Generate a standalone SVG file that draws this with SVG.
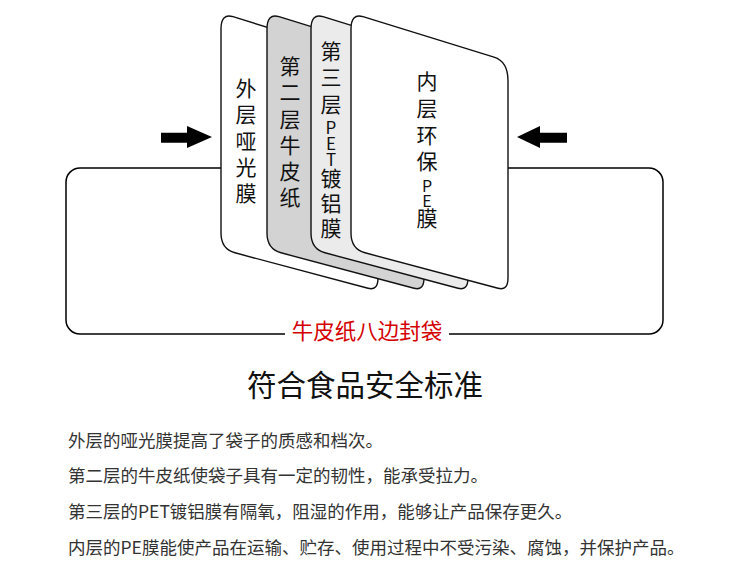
<svg xmlns="http://www.w3.org/2000/svg" xmlns:xlink="http://www.w3.org/1999/xlink" width="750" height="571" viewBox="0 0 750 571">
<style>
.frame{fill:none;stroke:#000;stroke-width:1.5}
.sheet{stroke:#111;stroke-width:1.4}
.arrow{fill:#000}
.st{font-family:"Noto Sans CJK SC","Noto Sans",sans-serif;font-size:21px;fill:#111;writing-mode:vertical-rl;text-orientation:upright;letter-spacing:5.3px}
.lt{font-size:17px;letter-spacing:-1px}
.label{font-family:"Noto Sans CJK SC",sans-serif;font-size:21.5px;fill:#d40000;text-anchor:middle}
.title{font-family:"Noto Sans CJK SC",sans-serif;font-size:29.5px;fill:#111;text-anchor:middle}
.body{font-family:"Noto Sans CJK SC",sans-serif;font-size:17.5px;fill:#333}
</style>
<defs>
<path id="sheetShape" d="M0,29 Q0,13 12,16.7 L143,57.2 Q157,61.5 157,81 L157,278 Q157,291 147,288.3 L14,252.8 Q0,249 0,233 Z"/>
</defs>
<g id="connectors">
<path class="frame" d="M285,334 L80,334 A14,14 0 0 1 66,320 L66,182 A14,14 0 0 1 80,168 L649,168 A14,14 0 0 1 663,182 L663,320 A14,14 0 0 1 649,334 L449,334"/>
<path class="arrow" d="M161,132.7 L187,132.7 L187,126 L212,137 L187,148 L187,142.7 L161,142.7 Z"/>
<path class="arrow" d="M567,132.7 L540,132.7 L540,126 L517,137 L540,148 L540,142.7 L567,142.7 Z"/>
</g>
<g id="label-bag">
<text class="label" x="367" y="339">牛皮纸八边封袋</text>
</g>
<g id="sheet-outer">
<use xlink:href="#sheetShape" x="221" class="sheet" fill="#ffffff"/>
<text class="st" x="246" y="77.5">外层哑光膜</text>
</g>
<g id="sheet-kraft">
<use xlink:href="#sheetShape" x="267" class="sheet" fill="#d3d3d3"/>
<text class="st" x="290" y="55.5">第二层牛皮纸</text>
</g>
<g id="sheet-pet">
<use xlink:href="#sheetShape" x="311" class="sheet" fill="#ebebeb"/>
<text class="st" x="331" y="40.5">第三层<tspan class="lt">PET</tspan><tspan style="letter-spacing:4px">镀铝膜</tspan></text>
</g>
<g id="sheet-inner">
<use xlink:href="#sheetShape" x="351" class="sheet" fill="#ffffff"/>
<text class="st" x="427" y="70.5" style="letter-spacing:5.8px">内层环保<tspan class="lt" style="font-size:16px">PE</tspan>膜</text>
</g>
<g id="title">
<text class="title" x="365" y="396">符合食品安全标准</text>
</g>
<g id="description">
<text class="body" x="68" y="446.5">外层的哑光膜提高了袋子的质感和档次。</text>
<text class="body" x="68" y="481.5">第二层的牛皮纸使袋子具有一定的韧性，能承受拉力。</text>
<text class="body" x="68" y="517.5">第三层的PET镀铝膜有隔氧，阻湿的作用，能够让产品保存更久。</text>
<text class="body" x="68" y="553.5">内层的PE膜能使产品在运输、贮存、使用过程中不受污染、腐蚀，并保护产品。</text>
</g>
</svg>
